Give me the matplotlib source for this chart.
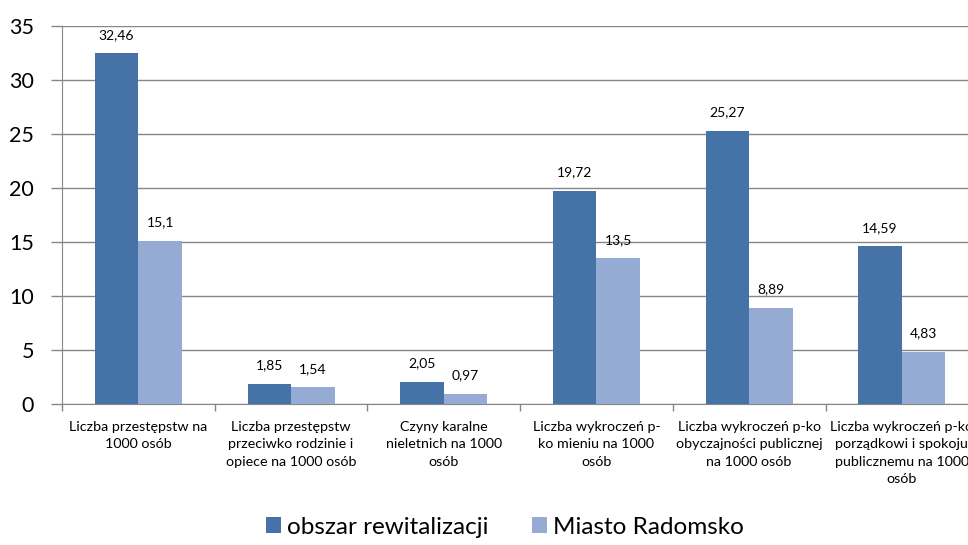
import numpy as np
import matplotlib.pyplot as plt

categories = [
    'Liczba przestępstw na\n1000 osób',
    'Liczba przestępstw\nprzeciwko rodzinie i\nopiece na 1000 osób',
    'Czyny karalne\nnieletnich na 1000\nosób',
    'Liczba wykroczeń p-\nko mieniu na 1000\nosób',
    'Liczba wykroczeń p-ko\nobyczajności publicznej\nna 1000 osób',
    'Liczba wykroczeń p-ko\nporządkowi i spokoju\npublicznemu na 1000\nosób',
]
obszar = [32.46, 1.85, 2.05, 19.72, 25.27, 14.59]
miasto = [15.1, 1.54, 0.97, 13.5, 8.89, 4.83]
series_names = ['obszar rewitalizacji', 'Miasto Radomsko']

plt.rcParams['font.family'] = ['Lato', 'DejaVu Sans']

dark = '#4572A7'
light = '#95ABD3'
grey = '#868686'

fig = plt.figure(figsize=(9.68, 5.45), dpi=100)
# axes run past the right edge of the figure, last category gets cut
ax = fig.add_axes([62 / 968, 1 - 404 / 545, 6 * 152.7 / 968, 378 / 545])

x = np.arange(len(categories))
w = 0.285
b1 = ax.bar(x + 0.5 - w, obszar, w, align='edge', color=dark, label=series_names[0], zorder=3)
b2 = ax.bar(x + 0.5, miasto, w, align='edge', color=light, label=series_names[1], zorder=3)

def fmt(v):
    return ('%g' % v).replace('.', ',')

for bars, vals in ((b1, obszar), (b2, miasto)):
    for r, v in zip(bars, vals):
        ax.annotate(fmt(v), (r.get_x() + r.get_width() / 2, v),
                    xytext=(0, 9), textcoords='offset points',
                    ha='center', va='bottom', fontsize=10, color='black')

ax.set_xlim(0, 6)
ax.set_ylim(0, 35)
ax.set_yticks(range(0, 36, 5))
ax.yaxis.grid(True, color=grey, linewidth=1, zorder=0)
ax.set_axisbelow(True)

ax.set_xticks(range(0, 7))
ax.set_xticklabels([])
ax.set_xticks(x + 0.5, minor=True)
ax.set_xticklabels(categories, minor=True, fontsize=10.3, linespacing=1.55)
ax.tick_params(axis='x', which='major', length=5, color=grey, width=1)
ax.tick_params(axis='x', which='minor', length=0, pad=12)
ax.tick_params(axis='y', length=8, color=grey, width=1, labelsize=15.5, pad=12)

for s in ('top', 'right'):
    ax.spines[s].set_visible(False)
ax.spines['left'].set_color(grey)
ax.spines['bottom'].set_color(grey)

fig.legend(handles=[b1, b2], labels=series_names, loc='center',
           bbox_to_anchor=(505 / 968, 1 - 527 / 545), ncol=2, frameon=False,
           fontsize=17.5, handlelength=0.6, handleheight=0.6, handletextpad=0.25,
           columnspacing=1.8)

fig.savefig('out.png', dpi=100)
